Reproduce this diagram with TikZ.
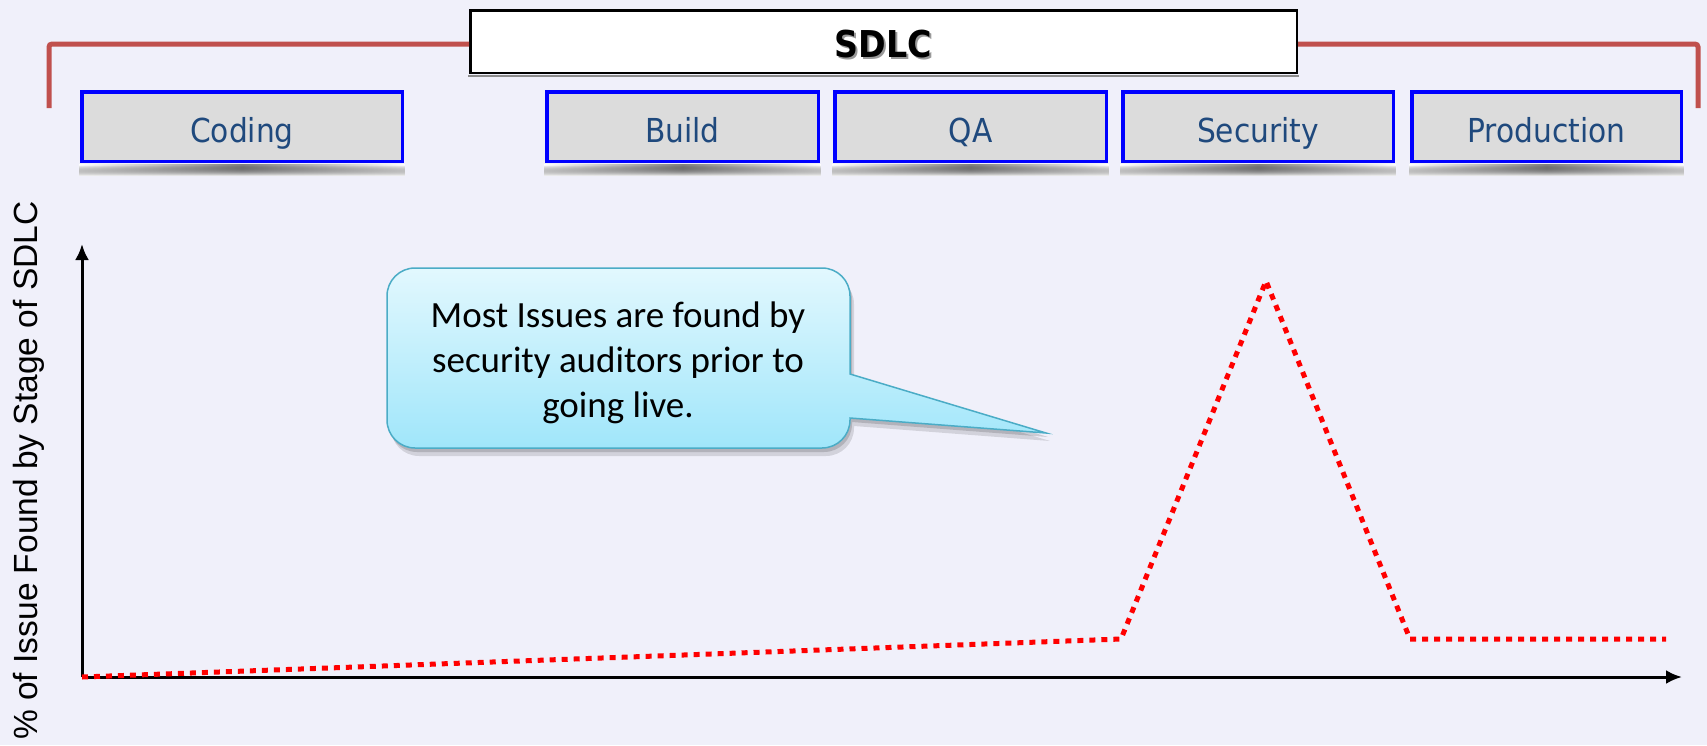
\documentclass[tikz,border=0pt]{standalone}
\usepackage{fontspec}
\setmainfont{Liberation Sans}
\newfontfamily\phasefont{DejaVu Sans Condensed}
\newfontfamily\callfont{Carlito}
\usetikzlibrary{arrows.meta,fadings}
\definecolor{bgc}{RGB}{240,240,250}
\definecolor{brk}{RGB}{192,80,77}
\definecolor{pblue}{RGB}{0,0,255}
\definecolor{pgray}{RGB}{220,220,220}
\definecolor{ptext}{RGB}{31,73,125}
\definecolor{cedge}{RGB}{75,172,198}
\definecolor{ctop}{RGB}{226,248,254}
\definecolor{cbot}{RGB}{160,230,250}
\tikzfading[name=fadedown, top color=transparent!0, bottom color=transparent!100]
\begin{document}
\begin{tikzpicture}[x=1pt,y=-1pt,
  phase/.style={draw=pblue, line width=3.5pt, fill=pgray, inner sep=0pt,
    text height=50.25pt, text depth=19.25pt, anchor=base, text=ptext,
    font=\phasefont\fontsize{33}{40}\selectfont},
  bracket/.style={draw=brk, line width=5pt, rounded corners=3pt},
  axis/.style={draw=black, line width=3pt, -{Latex[length=16pt,width=14pt]}},
  issue/.style={draw=red, line width=5pt, dash pattern=on 6pt off 6pt},
  callpath/.style={insert path={(415,268) -- (822,268)
      arc[start angle=270, end angle=360, radius=28] -- (850,374)
      -- (1046,433) -- (850,418) -- (850,420)
      arc[start angle=0, end angle=90, radius=28] -- (415,448)
      arc[start angle=90, end angle=180, radius=28] -- (387,296)
      arc[start angle=180, end angle=270, radius=28] -- cycle}}
]
\useasboundingbox (0,0) rectangle (1707,745);
\fill[bgc] (0,0) rectangle (1707,745);

% SDLC header and bracket
\coordinate (bl) at (49,108);
\coordinate (br) at (1698,108);
\node[draw=black, line width=2.5pt, fill=white, inner sep=0pt, minimum width=826.5pt,
  text height=46.75pt, text depth=15.75pt, anchor=base] (sdlc) at (883.5,57) {};
\draw[bracket] ([yshift=-2.5pt]sdlc.west) -| (bl);
\draw[bracket] ([yshift=-2.5pt]sdlc.east) -| (br);
\fill[black!45] ([xshift=-1.25pt,yshift=-1.25pt]sdlc.south west) rectangle ([xshift=1.25pt,yshift=-3pt]sdlc.south east);
\node[font=\phasefont\bfseries\fontsize{37}{44}\selectfont, text=black!40, anchor=base] (sdlcshadow) at (885,59) {SDLC};
\node[font=\phasefont\bfseries\fontsize{37}{44}\selectfont, text=black, anchor=base] (sdlctext) at (883.5,57) {SDLC};

% phase boxes
\node[phase, minimum width=320.5pt] (coding) at (242,142) {Coding};
\node[phase, minimum width=271.5pt] (build) at (682.5,142) {Build};
\node[phase, minimum width=271.5pt] (qa) at (970.5,142) {QA};
\node[phase, minimum width=270.5pt] (security) at (1258,142) {Security};
\node[phase, minimum width=269.5pt] (production) at (1546.5,142) {Production};
\foreach \n in {coding,build,qa,security,production}{
  \fill[white] ([xshift=-1pt,yshift=-1.75pt]\n.south west) rectangle ([xshift=1pt,yshift=-13pt]\n.south east);
  \fill[left color=white, right color=white, middle color=black!50, path fading=fadedown]
    ([xshift=-1pt,yshift=-1.75pt]\n.south west) rectangle ([xshift=1pt,yshift=-13pt]\n.south east);
}

% axes
\coordinate (o) at (82,677);
\coordinate (ytop) at (82,244);
\coordinate (xend) at (1682,677);
\draw[axis] (o) -- (ytop);
\draw[axis] (o) -- (xend);
\node[rotate=90, anchor=base east, font=\fontsize{33.5}{40}\selectfont] (ylabel) at (37,198) {\% of Issue Found by Stage of SDLC};

% issue curve
\coordinate (p1) at (1121,639);
\coordinate (p2) at (1266,281);
\coordinate (p3) at (1410,639);
\coordinate (p4) at (1666,639);
\draw[issue] (o) -- (p1) -- (p2) -- (p3) -- (p4);

% callout
\fill[black, opacity=0.12, shift={(4,8)}, callpath];
\fill[black, opacity=0.15, shift={(2,4)}, callpath];
\path[top color=ctop, bottom color=cbot, draw=cedge, line width=1.5pt, callpath];
\node[font=\callfont\fontsize{37}{45}\selectfont, align=center, inner sep=0pt] (note) at (618,363)
  {Most Issues are found by\\security auditors prior to\\going live.};
\end{tikzpicture}
\end{document}
